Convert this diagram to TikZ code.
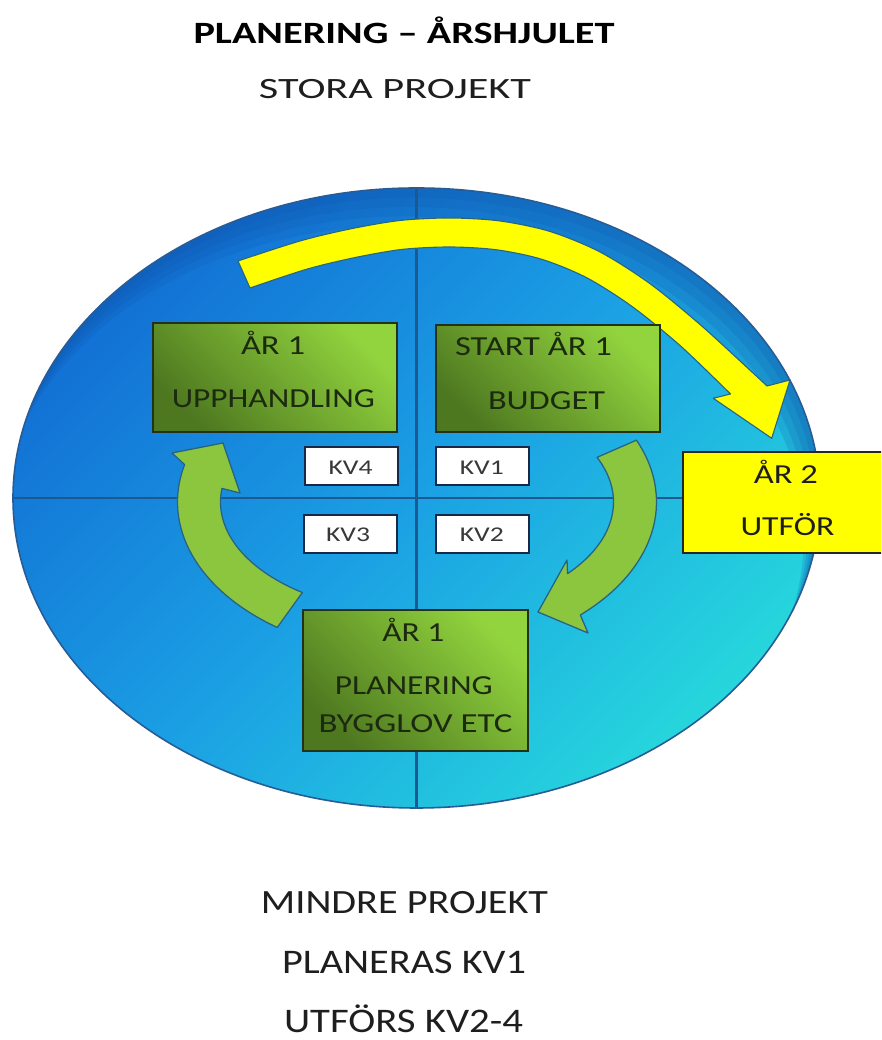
\documentclass[tikz,border=0pt]{standalone}
\usepackage{fontspec}
\setmainfont{Carlito}
\usepackage{graphicx}
\usetikzlibrary{shapes.geometric}

% text set to an exact width at a given font size
\newcommand\fittext[3]{\resizebox{#1pt}{\height}{\fontsize{#2pt}{#2pt}\selectfont #3}}

\definecolor{wheelA}{RGB}{18,112,212}
\definecolor{wheelB}{RGB}{27,160,228}
\definecolor{wheelC}{RGB}{38,214,220}
\definecolor{wheelRim}{RGB}{16,88,176}
\definecolor{wheelEdge}{RGB}{40,92,150}
\definecolor{crossline}{RGB}{30,88,145}
\definecolor{boxlight}{RGB}{146,212,62}
\definecolor{boxdark}{RGB}{78,120,32}
\definecolor{boxedge}{RGB}{35,50,25}
\definecolor{arrowgreen}{RGB}{140,198,63}
\definecolor{arrowedge}{RGB}{40,100,130}
\definecolor{sunyellow}{RGB}{255,255,0}
\definecolor{kvedge}{RGB}{25,40,70}
\definecolor{boxtext}{RGB}{28,42,16}
\definecolor{plaintext}{RGB}{30,30,30}

\begin{document}
\begin{tikzpicture}[x=1pt,y=1pt,
  greenbox/.style={rectangle, draw=boxedge, line width=1.5pt, inner sep=0pt,
    top color=boxlight, bottom color=boxdark, shading angle=-45},
  kvbox/.style={rectangle, draw=kvedge, line width=1.6pt, fill=white, inner sep=0pt,
    minimum width=93pt, minimum height=38pt},
  yellowbox/.style={rectangle, draw=black!85, line width=1.5pt, fill=sunyellow, inner sep=0pt},
  greenarrow/.style={fill=arrowgreen, draw=arrowedge, line width=1.3pt, line join=round},
  yellowarrow/.style={fill=sunyellow, draw=arrowedge, line width=1.1pt, line join=round},
  boxlabel/.style={anchor=base, inner sep=0pt, text=boxtext},
  kvlabel/.style={anchor=base, inner sep=0pt, text=black!78},
  pagelabel/.style={anchor=base, inner sep=0pt, text=plaintext}]

\path[use as bounding box] (0,0) rectangle (881,1040);
\clip (0,0) rectangle (881,1040);
\fill[white] (0,0) rectangle (881,1040);

% headings
\node[pagelabel, text=black] (title) at (404,996.7)
  {\fittext{421}{31}{\bfseries PLANERING – ÅRSHJULET}};
\node[pagelabel] (stora) at (395,941.7) {\fittext{272}{29.5}{STORA PROJEKT}};

% the year wheel
\node[ellipse, minimum width=807pt, minimum height=620pt, inner sep=0pt,
  top color=wheelA, bottom color=wheelC, middle color=wheelB, shading angle=45]
  (wheel) at (416.5,542) {};
% darker rim towards the upper right
\begin{scope}
  \clip (wheel.center) ellipse [x radius=403.5pt, y radius=310pt];
  \foreach \d in {10,20,30,40} {
    \fill[wheelRim, opacity=0.2, even odd rule]
      (wheel.center) ellipse [x radius=403.5pt, y radius=310pt]
      ([shift={(-0.4*\d,-0.95*\d)}]wheel.center) ellipse [x radius=403.5pt, y radius=310pt];
  }
\end{scope}
\draw[crossline, line width=2.2pt] (wheel.west) -- (wheel.east);
\draw[crossline, line width=2.2pt] (wheel.north) -- (wheel.south);
\draw[wheelEdge, line width=1.6pt] (wheel.center) ellipse [x radius=403.5pt, y radius=310pt];

% yellow arrow over the top of the wheel
\filldraw[yellowarrow]
  plot[smooth, tension=0.5] coordinates {(238,779) (300,799) (350,811) (400,819.5)
    (450,822) (500,819) (550,808.5) (600,788) (650,756.3) (700,715.5)
    (750,669.8) (767,654)}
  -- (790,660) -- (771.7,601.7) -- (713.3,641.7)
  -- plot[smooth, tension=0.5] coordinates {(730.5,646) (680.9,693.7) (632.6,733.1)
    (586.6,762.3) (541.7,780.7) (496.5,790.2) (450,793) (402.3,790.6)
    (354.9,782.4) (306.8,770.8) (250,752)}
  -- cycle;

% green arrows, budget -> planning and planning -> procurement
\filldraw[greenarrow]
  ([shift={(417,538)}]23.6:239.5pt and 154.5pt)
    arc[start angle=23.6, end angle=-47, x radius=239.5pt, y radius=154.5pt]
  -- (588,407) -- (538,428) -- (567,480)
  -- ([shift={(417,538)}]-40:196.5pt and 111.5pt)
    arc[start angle=-40, end angle=23.6, x radius=196.5pt, y radius=111.5pt]
  -- cycle;
\filldraw[greenarrow]
  ([shift={(417,538)}]234.3:239.5pt and 154.5pt)
    arc[start angle=234.3, end angle=166, x radius=239.5pt, y radius=154.5pt]
  -- (172,587) -- (223,597) -- (240,547)
  -- ([shift={(417,538)}]173:196.5pt and 111.5pt)
    arc[start angle=173, end angle=234.3, x radius=196.5pt, y radius=111.5pt]
  -- cycle;

% phase boxes
\node[greenbox, minimum width=244pt, minimum height=109pt] (upph) at (275,662.5) {};
\node[greenbox, minimum width=224pt, minimum height=107pt] (budget) at (548,661.5) {};
\node[greenbox, minimum width=225pt, minimum height=141pt] (plan) at (415.5,359.5) {};
\node[yellowbox, minimum width=210pt, minimum height=101pt] (ar2) at (788,537.5) {};

\node[boxlabel] (upph1) at (273,685) {\fittext{64}{27.5}{ÅR 1}};
\node[boxlabel] (upph2) at (273.3,632) {\fittext{203}{27.5}{UPPHANDLING}};
\node[boxlabel] (budget1) at (533.5,684) {\fittext{157}{27.5}{START ÅR 1}};
\node[boxlabel] (budget2) at (546.5,630) {\fittext{117}{27.5}{BUDGET}};
\node[boxlabel] (plan1) at (413.3,398.3) {\fittext{62}{27.5}{ÅR 1}};
\node[boxlabel] (plan2) at (413.8,345) {\fittext{158}{27.5}{PLANERING}};
\node[boxlabel] (plan3) at (415.5,307) {\fittext{194}{27.5}{BYGGLOV ETC}};
\node[boxlabel, text=plaintext] (ar2a) at (785.8,556) {\fittext{64}{27.5}{ÅR 2}};
\node[boxlabel, text=plaintext] (ar2b) at (787.5,504.3) {\fittext{94}{27.5}{UTFÖR}};

% quarters
\node[kvbox] (kv4) at (351.5,574) {};
\node[kvbox] (kv1) at (482.5,574) {};
\node[kvbox] (kv3) at (350.5,506) {};
\node[kvbox] (kv2) at (482.5,506) {};
\node[kvlabel] (kv4t) at (350.5,565) {\fittext{44}{21}{KV4}};
\node[kvlabel] (kv1t) at (481.8,565) {\fittext{44}{21}{KV1}};
\node[kvlabel] (kv3t) at (348,498.3) {\fittext{44}{21}{KV3}};
\node[kvlabel] (kv2t) at (481.8,498.3) {\fittext{44}{21}{KV2}};

% smaller projects
\node[pagelabel] (mindre) at (404.5,126) {\fittext{287}{34}{MINDRE PROJEKT}};
\node[pagelabel] (planeras) at (404,66) {\fittext{244}{34.5}{PLANERAS KV1}};
\node[pagelabel] (utfors) at (403.5,8) {\fittext{239}{34.5}{UTFÖRS KV2-4}};
\end{tikzpicture}
\end{document}
